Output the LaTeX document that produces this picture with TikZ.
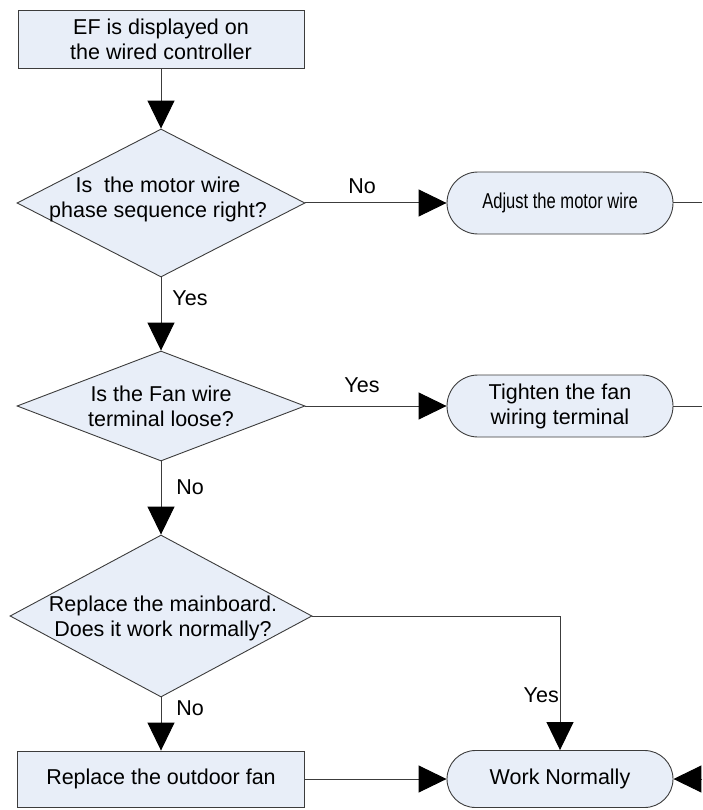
\documentclass[tikz,border=0pt]{standalone}
\usepackage{fontspec}
\setmainfont{Liberation Sans}
\usetikzlibrary{shapes.geometric,shapes.misc,arrows.meta,positioning}
\definecolor{boxfill}{RGB}{232,238,248}
\definecolor{edgegray}{RGB}{60,60,60}

\begin{document}
\begin{tikzpicture}[x=1pt,y=-1pt,
  every node/.style={font=\fontsize{21.5}{25}\selectfont},
  proc/.style={draw=edgegray,fill=boxfill,line width=0.9pt,rectangle,minimum width=286pt,
               minimum height=58pt,inner sep=0pt,align=center},
  dec/.style={draw=edgegray,fill=boxfill,line width=0.9pt,diamond,inner sep=0pt,minimum width=288pt},
  term/.style={draw=edgegray,fill=boxfill,line width=0.9pt,rounded rectangle,minimum width=226pt,
               minimum height=62pt,inner sep=0pt,align=center},
  txt/.style={align=center,inner sep=0pt},
  lbl/.style={inner sep=0pt},
  arr/.style={-{Triangle[length=28pt,width=27pt,color=black]},draw=edgegray,line width=1pt},
  wire/.style={draw=edgegray,line width=1pt}
]
  \useasboundingbox (0,0) rectangle (702,810);

  % Start box
  \node[proc] (start) at (161,39.5) {EF is displayed on\\the wired controller};

  % Decisions (left column)
  \node[dec,minimum height=148pt] (q1) at (161,203) {};
  \node[txt] (q1txt) at (158,199) {Is\ \ the motor wire\\phase sequence right?};
  \node[dec,minimum height=110pt] (q2) at (161,406) {};
  \node[txt] (q2txt) at (161,406) {Is the Fan wire\\terminal loose?};
  \node[dec,minimum width=302pt,minimum height=162pt] (q3) at (161,616) {};
  \node[txt] (q3txt) at (163,618) {Replace the mainboard.\\Does it work normally?};
  \node[proc,minimum width=287pt,minimum height=56pt] (repl) at (161,779) {Replace the outdoor fan};

  % Actions (right column)
  \node[term] (adj)   at (560,203) {\scalebox{0.77}[1]{Adjust the motor wire}};
  \node[term] (tight) at (560,406) {Tighten the fan\\wiring terminal};
  \node[term,minimum height=57pt] (ok) at (560,779) {Work Normally};

  % Right border (lines run on past the picture)
  \coordinate (rim) at (702,0);

  % Flow
  \draw[arr] (start.south) -- (q1.north);
  \draw[arr] (q1.east) -- (adj.west);
  \draw[arr] (q1.south) -- (q2.north);
  \draw[arr] (q2.east) -- (tight.west);
  \draw[arr] (q2.south) -- (q3.north);
  \draw[arr] (q3.south) -- (repl.north);
  \draw[arr] (q3.east) -| (ok.north);
  \draw[arr] (repl.east) -- (ok.west);
  \draw[wire] (adj.east) -- (adj.east -| rim);
  \draw[wire] (tight.east) -- (tight.east -| rim);
  \draw[arr] (ok.east -| rim) -- (ok.east);

  % Branch labels
  \node[lbl] (no1)  at (362,186) {No};
  \node[lbl] (yes1) at (190,298) {Yes};
  \node[lbl] (yes2) at (362,385) {Yes};
  \node[lbl] (no2)  at (190,487) {No};
  \node[lbl,anchor=east] (yes3) at (559,695) {Yes};
  \node[lbl] (no3)  at (190,708) {No};
\end{tikzpicture}
\end{document}
